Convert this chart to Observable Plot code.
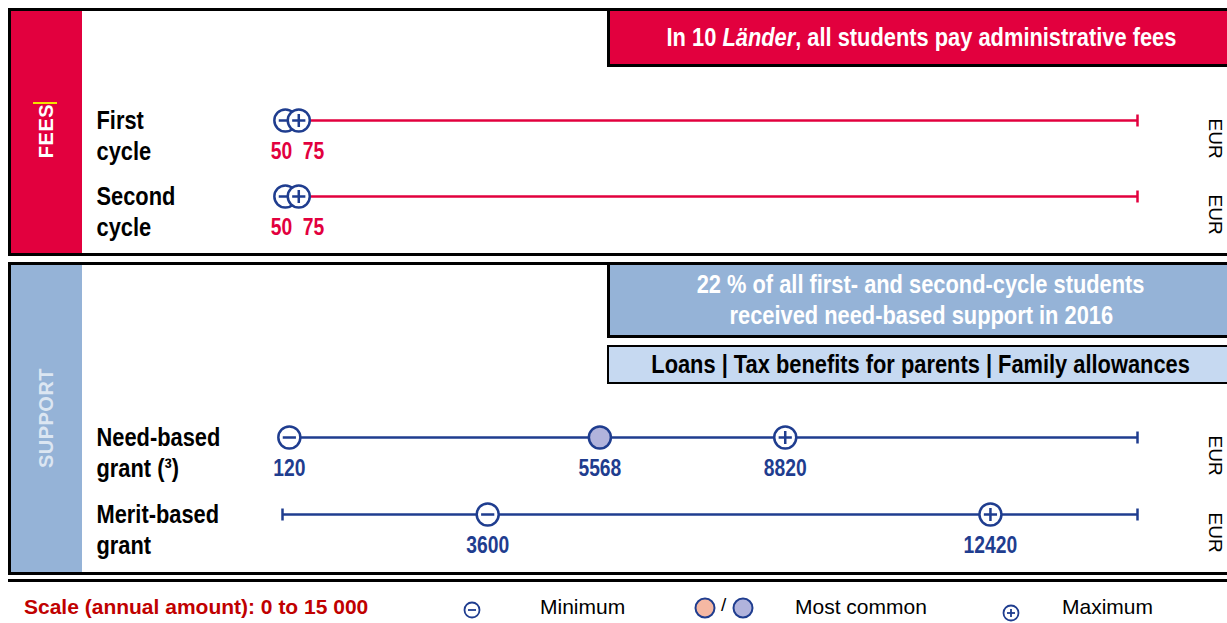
<!DOCTYPE html>
<html><head><meta charset="utf-8">
<script src="https://cdn.jsdelivr.net/npm/d3@7"></script>
<script src="https://cdn.jsdelivr.net/npm/@observablehq/plot@0.6"></script>
<style>
body{margin:0;background:#fff;font-family:"Liberation Sans",Arial,sans-serif;}
#wrap{position:relative;width:1227px;height:623px;overflow:hidden;background:#fff;}
.abs{position:absolute;box-sizing:border-box;}
.nb{font-family:"Liberation Sans Narrow","Arial Narrow","Liberation Sans",sans-serif;font-weight:bold;}
.box{display:flex;flex-direction:column;align-items:center;justify-content:center;text-align:center;line-height:31px;font-size:26px;white-space:nowrap;}
.box > div{transform:scaleX(0.84);}
.side{color:#fff;font-weight:bold;font-size:20px;letter-spacing:0.5px;white-space:nowrap;transform:translate(-50%,-50%) rotate(-90deg);}
.leg{position:absolute;font-size:21px;white-space:nowrap;transform:translateY(-50%);}
</style></head>
<body>
<div id="wrap">
  <!-- FEES panel -->
  <div class="abs" style="left:8px;top:8px;width:1300px;height:248px;border:3px solid #000;"></div>
  <div class="abs" style="left:11px;top:11px;width:71px;height:242px;background:#e2003e;"></div>
  <div class="abs" style="left:33px;top:102px;width:24px;height:2px;background:#f2e200;"></div>
  <div class="abs side" style="left:46px;top:131px;">FEES</div>
  <div class="abs box nb" style="left:607px;top:8px;width:628px;height:59px;border:3px solid #000;background:#e2003e;color:#fff;"><div>In 10 <i>Länder</i>, all students pay administrative fees</div></div>

  <!-- SUPPORT panel -->
  <div class="abs" style="left:8px;top:262px;width:1300px;height:313px;border:3px solid #000;"></div>
  <div class="abs" style="left:11px;top:265px;width:71px;height:307px;background:#95b3d7;"></div>
  <div class="abs side" style="left:46px;top:418px;color:#dce6f2;">SUPPORT</div>
  <div class="abs box nb" style="left:607px;top:262px;width:628px;height:76px;border:3px solid #000;background:#95b3d7;color:#fff;"><div>22 % of all first- and second-cycle students</div><div>received need-based support in 2016</div></div>
  <div class="abs box nb" style="left:607px;top:345px;width:628px;height:39px;border:2px solid #000;background:#c6d9f1;color:#000;"><div>Loans | Tax benefits for parents | Family allowances</div></div>

  <!-- separator -->
  <div class="abs" style="left:8px;top:579px;width:1300px;height:3px;background:#000;"></div>

  <div id="plots"></div>

  <!-- legend -->
  <div class="leg" style="left:24px;top:607px;color:#c00000;font-weight:bold;">Scale (annual amount): 0 to 15 000</div>
  <svg class="abs" style="left:462px;top:600px;" width="20" height="20"><circle cx="10" cy="10" r="7.5" fill="#fff" stroke="#1f3d8f" stroke-width="1.8"/><line x1="6" y1="10" x2="14" y2="10" stroke="#1f3d8f" stroke-width="1.8"/></svg>
  <div class="leg" style="left:540px;top:607px;color:#000;">Minimum</div>
  <svg class="abs" style="left:693px;top:596px;" width="24" height="24"><circle cx="12" cy="12" r="9.5" fill="#f5b8a3" stroke="#1f3d8f" stroke-width="2"/></svg>
  <div class="leg" style="left:721px;top:605px;color:#000;font-size:19px;">/</div>
  <svg class="abs" style="left:731px;top:596px;" width="24" height="24"><circle cx="12" cy="12" r="9.5" fill="#b1b3dc" stroke="#1f3d8f" stroke-width="2"/></svg>
  <div class="leg" style="left:795px;top:607px;color:#000;">Most common</div>
  <svg class="abs" style="left:1001px;top:603px;" width="20" height="20"><circle cx="10" cy="10" r="7.5" fill="#fff" stroke="#1f3d8f" stroke-width="1.8"/><line x1="6" y1="10" x2="14" y2="10" stroke="#1f3d8f" stroke-width="1.8"/><line x1="10" y1="6" x2="10" y2="14" stroke="#1f3d8f" stroke-width="1.8"/></svg>
  <div class="leg" style="left:1062px;top:607px;color:#000;">Maximum</div>
</div>
<script>
// ---- data ----
const scaleMax = 15000;
const unit = "EUR";
const feeRows = ["First\ncycle", "Second\ncycle"];
const feeMin = [50, 50];
const feeCommon = [null, null];
const feeMax = [75, 75];
const supportRows = ["Need-based\ngrant (³)", "Merit-based\ngrant"];
const supportMin = [120, 3600];
const supportCommon = [5568, null];
const supportMax = [8820, 12420];

// ---- style ----
const RED = "#e2003e", BLUE = "#1f3d8f", COMMON = "#b1b3dc";
const NARROW = "Liberation Sans Narrow, Arial Narrow, Liberation Sans, sans-serif";
const X0 = 282, X1 = 1137;

const radius = size => Math.sqrt(size / Math.PI);
const minusSym = {draw(ctx, size){const r = radius(size); ctx.moveTo(r,0); ctx.arc(0,0,r,0,2*Math.PI); ctx.moveTo(-r*0.6,0); ctx.lineTo(r*0.6,0);}};
const plusSym = {draw(ctx, size){const r = radius(size); ctx.moveTo(r,0); ctx.arc(0,0,r,0,2*Math.PI); ctx.moveTo(-r*0.6,0); ctx.lineTo(r*0.6,0); ctx.moveTo(0,-r*0.6); ctx.lineTo(0,r*0.6);}};
const barSym = {draw(ctx, size){const r = radius(size); ctx.moveTo(0,-r); ctx.lineTo(0,r);}};

function panelPlot({rows, mins, commons, maxs, yRange, lineColor, labelColor}) {
  const data = rows.map((row, i) => ({row, min: mins[i], common: commons[i], max: maxs[i]}));
  const pxPer = (X1 - X0) / scaleMax;
  const close = d => (d.max - d.min) * pxPer < 22;
  const near = data.filter(close), apart = data.filter(d => !close(d));
  const withCommon = data.filter(d => d.common != null);
  const mk = {r: 11, stroke: BLUE, strokeWidth: 2.5};
  const lab = {fontFamily: NARROW, fontWeight: "bold", fontSize: 23, fill: labelColor, dy: 31};
  return Plot.plot({
    width: 1227, height: 623, margin: 0,
    x: {domain: [0, scaleMax], range: [X0, X1], axis: null},
    y: {type: "point", domain: rows, range: yRange, padding: 0, axis: null},
    style: {background: "transparent", overflow: "visible"},
    marks: [
      Plot.ruleY(data, {y: "row", x1: () => 0, x2: () => scaleMax, stroke: lineColor, strokeWidth: 2.5}),
      Plot.dot(data, {x: () => 0, y: "row", symbol: barSym, r: 6, fill: "none", stroke: lineColor, strokeWidth: 2.5}),
      Plot.dot(data, {x: () => scaleMax, y: "row", symbol: barSym, r: 6, fill: "none", stroke: lineColor, strokeWidth: 2.5}),
      Plot.dot(withCommon, {x: "common", y: "row", fill: COMMON, ...mk}),
      Plot.dot(data, {x: "min", y: "row", symbol: minusSym, fill: "white", ...mk}),
      Plot.dot(near, {x: "max", y: "row", dx: 12, symbol: plusSym, fill: "white", ...mk}),
      Plot.dot(apart, {x: "max", y: "row", symbol: plusSym, fill: "white", ...mk}),
      // value labels
      Plot.text(near, {x: "min", y: "row", text: d => String(d.min), textAnchor: "end", dx: 7, ...lab}),
      Plot.text(near, {x: "max", y: "row", text: d => String(d.max), textAnchor: "start", dx: 16, ...lab}),
      Plot.text(apart, {x: "min", y: "row", text: d => String(d.min), ...lab}),
      Plot.text(apart, {x: "max", y: "row", text: d => String(d.max), ...lab}),
      Plot.text(withCommon, {x: "common", y: "row", text: d => String(d.common), ...lab}),
      // row labels
      Plot.text(data, {x: () => 0, y: "row", text: "row", dx: -186, dy: -13, textAnchor: "start", lineAnchor: "top",
        fontSize: 26, lineHeight: 1.19, fontFamily: NARROW, fontWeight: "bold", fill: "#000"}),
      // unit
      Plot.text(data, {x: () => scaleMax, y: "row", text: () => unit, rotate: 90, dx: 78, dy: -2, textAnchor: "start",
        fontSize: 19, fontFamily: "Liberation Sans, Arial, sans-serif", fill: "#000"})
    ]
  });
}

// narrow the bold condensed texts horizontally (no narrow face installed)
function condense(svg, factor) {
  svg.querySelectorAll("g[font-family*='Narrow'] text").forEach(t => {
    const tr = t.getAttribute("transform") || "";
    t.setAttribute("transform", tr + ` scale(${factor},1)`);
  });
}

const host = document.getElementById("plots");
const plots = [
  panelPlot({rows: feeRows, mins: feeMin, commons: feeCommon, maxs: feeMax, yRange: [120, 196], lineColor: RED, labelColor: RED}),
  panelPlot({rows: supportRows, mins: supportMin, commons: supportCommon, maxs: supportMax, yRange: [437, 514], lineColor: BLUE, labelColor: BLUE})
];
for (const p of plots) {
  condense(p, 0.84);
  p.style.position = "absolute"; p.style.left = "0px"; p.style.top = "0px";
  host.appendChild(p);
}
</script>
</body></html>
